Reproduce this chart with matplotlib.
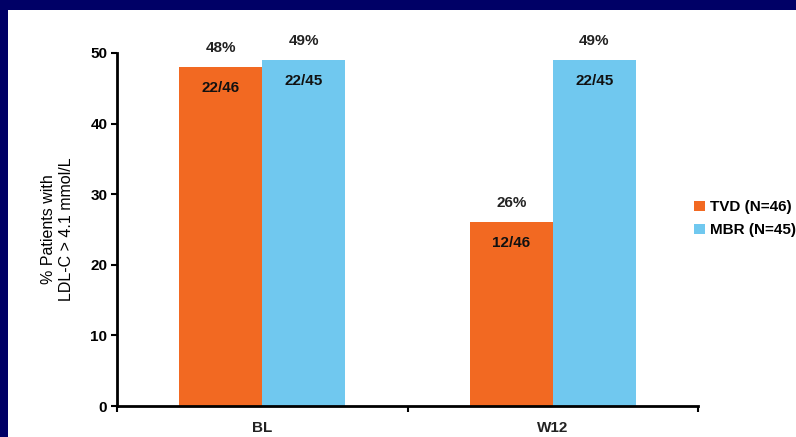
import matplotlib
matplotlib.use("Agg")
import matplotlib.pyplot as plt
import numpy as np
from matplotlib.patches import Rectangle

plt.rcParams['font.family'] = ['Liberation Sans', 'DejaVu Sans']

# LDL-C > 4.1 mmol/L by visit and treatment arm
visits = ["BL", "W12"]
series_names = ["TVD (N=46)", "MBR (N=45)"]
tvd_pct = [48, 26]
mbr_pct = [49, 49]
tvd_counts = ["22/46", "12/46"]
mbr_counts = ["22/45", "22/45"]
y_ticks = [0, 10, 20, 30, 40, 50]

orange = "#F26922"
blue = "#70C8EF"
navy = "#000066"

fig = plt.figure(figsize=(7.96, 4.37), dpi=100, facecolor=navy)
# white slide panel inside the navy frame
fig.patches.append(Rectangle((8 / 796, 0), 1.0, 1 - 10 / 437, transform=fig.transFigure,
                             facecolor="white", edgecolor="none", zorder=-10))

ax = fig.add_axes([117 / 796, 1 - 406 / 437, (698 - 117) / 796, (406 - 53) / 437])
ax.set_facecolor("none")
ax.set_zorder(5)

x = np.arange(len(visits))
w = 0.286
b1 = ax.bar(x - w / 2, tvd_pct, w, color=orange, label=series_names[0], zorder=2)
b2 = ax.bar(x + w / 2, mbr_pct, w, color=blue, label=series_names[1], zorder=2)

for bars, pcts, counts in [(b1, tvd_pct, tvd_counts), (b2, mbr_pct, mbr_counts)]:
    for r, p, c in zip(bars, pcts, counts):
        cx = r.get_x() + r.get_width() / 2
        ax.text(cx, p + 2.7, "%d%%" % p, ha="center", va="center", fontsize=11,
                fontweight="bold", color="#222222")
        ax.text(cx, p - 2.9, c, ha="center", va="center", fontsize=11,
                fontweight="bold", color="#111111")

ax.set_xlim(-0.5, 1.5)
ax.set_ylim(0, 50)
ax.set_yticks(y_ticks)
ax.set_yticklabels([str(t) for t in y_ticks], fontsize=11, fontweight="bold")

# category separators as ticks on the x-axis
ax.set_xticks([-0.5, 0.5, 1.5])
ax.set_xticklabels([])
ax.tick_params(axis="x", direction="out", length=4, width=1.5)
ax.tick_params(axis="y", direction="out", length=4, width=1.5, pad=3)
for i, v in enumerate(visits):
    ax.text(i, -3.1, v, ha="center", va="center", fontsize=11, fontweight="bold",
            color="#222222", clip_on=False)

for s in ["top", "right"]:
    ax.spines[s].set_visible(False)
for s in ["left", "bottom"]:
    ax.spines[s].set_linewidth(2)
    ax.spines[s].set_zorder(3)

ax.set_ylabel("% Patients with\nLDL-C > 4.1 mmol/L", fontsize=11.5, labelpad=12)

ax.legend(loc="center left", bbox_to_anchor=(0.97, 0.53), frameon=False,
          handlelength=0.7, handleheight=0.7, handletextpad=0.3, labelspacing=0.6,
          prop={"weight": "bold", "size": 11})

fig.savefig("out.png", dpi=100, facecolor=navy)
